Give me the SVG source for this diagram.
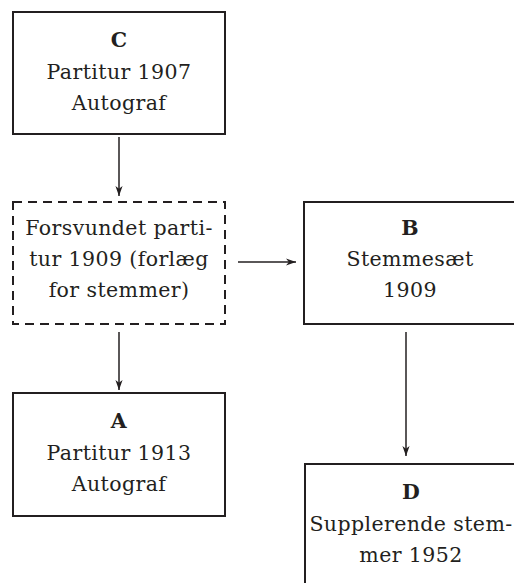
<svg xmlns="http://www.w3.org/2000/svg" width="514" height="583" viewBox="0 0 514 583">
<defs>
<marker id="ah" markerWidth="10" markerHeight="14" refX="14" refY="5" orient="auto" markerUnits="userSpaceOnUse" viewBox="0 0 14 10">
<path d="M0,0 L14,5 L0,10 L4,5 Z" fill="#231f20"/>
</marker>
<style>
.box{fill:#fff;stroke:#231f20;stroke-width:2}
.dash{fill:#fff;stroke:#231f20;stroke-width:2;stroke-dasharray:9 6}
.t{font-family:"DejaVu Serif","Liberation Serif",serif;font-size:20.5px;letter-spacing:0.4px;fill:#231f20;text-anchor:middle}
.b{font-weight:bold}
.ln{stroke:#231f20;stroke-width:1.5;fill:none;marker-end:url(#ah)}
</style>
</defs>
<rect width="514" height="583" fill="#fff"/>
<g id="connectors">
<line class="ln" x1="119" y1="137" x2="119" y2="196"/>
<line class="ln" x1="119" y1="332" x2="119" y2="390"/>
<line class="ln" x1="238" y1="262" x2="296" y2="262"/>
<line class="ln" x1="406" y1="332" x2="406" y2="456"/>
</g>
<g id="C">
<rect class="box" x="13" y="12" width="212" height="122"/>
<text class="t b" x="119" y="47">C</text>
<text class="t" x="119" y="79">Partitur 1907</text>
<text class="t" x="119" y="110">Autograf</text>
</g>
<g id="lost">
<rect class="dash" x="13" y="202" width="212" height="122"/>
<text class="t" x="119" y="235">Forsvundet parti-</text>
<text class="t" x="119" y="266">tur 1909 (forlæg</text>
<text class="t" x="119" y="297">for stemmer)</text>
</g>
<g id="B">
<rect class="box" x="304" y="202" width="214" height="122"/>
<text class="t b" x="410" y="235">B</text>
<text class="t" x="410" y="266">Stemmesæt</text>
<text class="t" x="410" y="297">1909</text>
</g>
<g id="A">
<rect class="box" x="13" y="393" width="212" height="123"/>
<text class="t b" x="119" y="428">A</text>
<text class="t" x="119" y="460">Partitur 1913</text>
<text class="t" x="119" y="491">Autograf</text>
</g>
<g id="D">
<rect class="box" x="305" y="464" width="214" height="130"/>
<text class="t b" x="411" y="499">D</text>
<text class="t" x="411" y="531">Supplerende stem-</text>
<text class="t" x="411" y="562">mer 1952</text>
</g>
</svg>
